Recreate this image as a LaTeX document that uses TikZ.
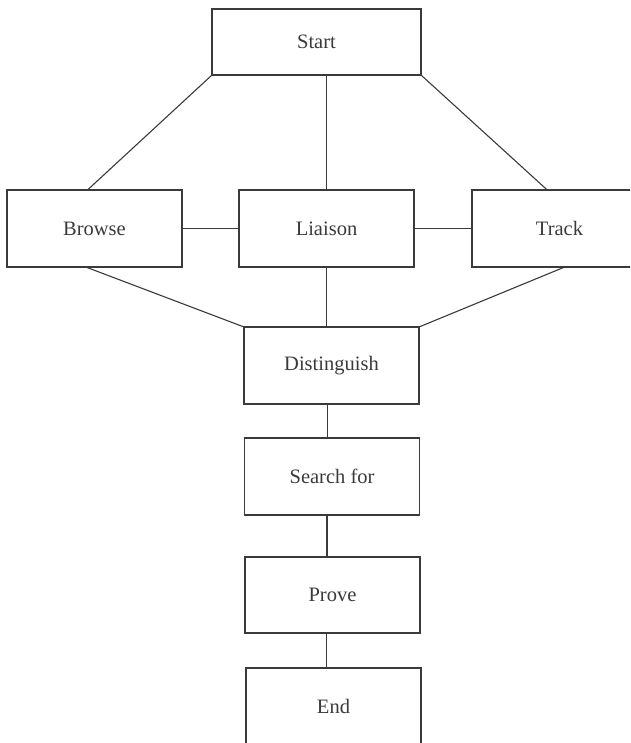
\documentclass[tikz,border=0pt]{standalone}
\usepackage{fontspec}
\setmainfont{Liberation Serif}
\usetikzlibrary{calc}
\definecolor{ink}{HTML}{3A3A3A}
\begin{document}
\begin{tikzpicture}[x=1pt,y=1pt,
  box/.style={draw=ink, line width=1.1pt, rectangle, inner sep=0pt, outer sep=0pt,
    minimum width=175pt, minimum height=77pt, text=ink, font=\fontsize{20.5}{24}\selectfont},
  link/.style={draw=ink, line width=1.1pt}]
  \useasboundingbox (0,0) rectangle (630,-743);
  \clip (0,0) rectangle (630,-743);

  % boxes
  \node[box, minimum width=209pt, minimum height=66pt] (start) at (316.5,-42) {Start};
  \node[box] (browse)  at (94.5,-228.5)  {Browse};
  \node[box] (liaison) at (326.5,-228.5) {Liaison};
  \node[box] (track)   at (559.5,-228.5) {Track};
  \node[box] (disting) at (331.5,-365.5) {Distinguish};
  \node[box] (search)  at (332,-476.5)   {Search for};
  \node[box, minimum height=76pt] (prove) at (332.5,-595) {Prove};
  \node[box] (end)     at (333.5,-706.5) {End};

  % connectors from Start
  \draw[link] (start.south west) -- ($(browse.north west)!0.46!(browse.north east)$);
  \draw[link] (liaison.north |- start.south) -- (liaison.north);
  \draw[link] (start.south east) -- ($(track.north west)!0.43!(track.north east)$);

  % middle row
  \draw[link] (browse.east) -- (liaison.west);
  \draw[link] (liaison.east) -- (track.west);

  % into Distinguish
  \draw[link] ($(browse.south west)!0.45!(browse.south east)$) -- (disting.north west);
  \draw[link] (liaison.south) -- (liaison.south |- disting.north);
  \draw[link] ($(track.south west)!0.53!(track.south east)$) -- (disting.north east);

  % vertical chain
  \coordinate (c1) at ($(disting.south)+(-4,0)$);
  \draw[link] (c1) -- (c1 |- search.north);
  \coordinate (c2) at ($(search.south)+(-5,0)$);
  \draw[link] (c2) -- (c2 |- prove.north);
  \coordinate (c3) at ($(prove.south)+(-6,0)$);
  \draw[link] (c3) -- (c3 |- end.north);
\end{tikzpicture}
\end{document}
